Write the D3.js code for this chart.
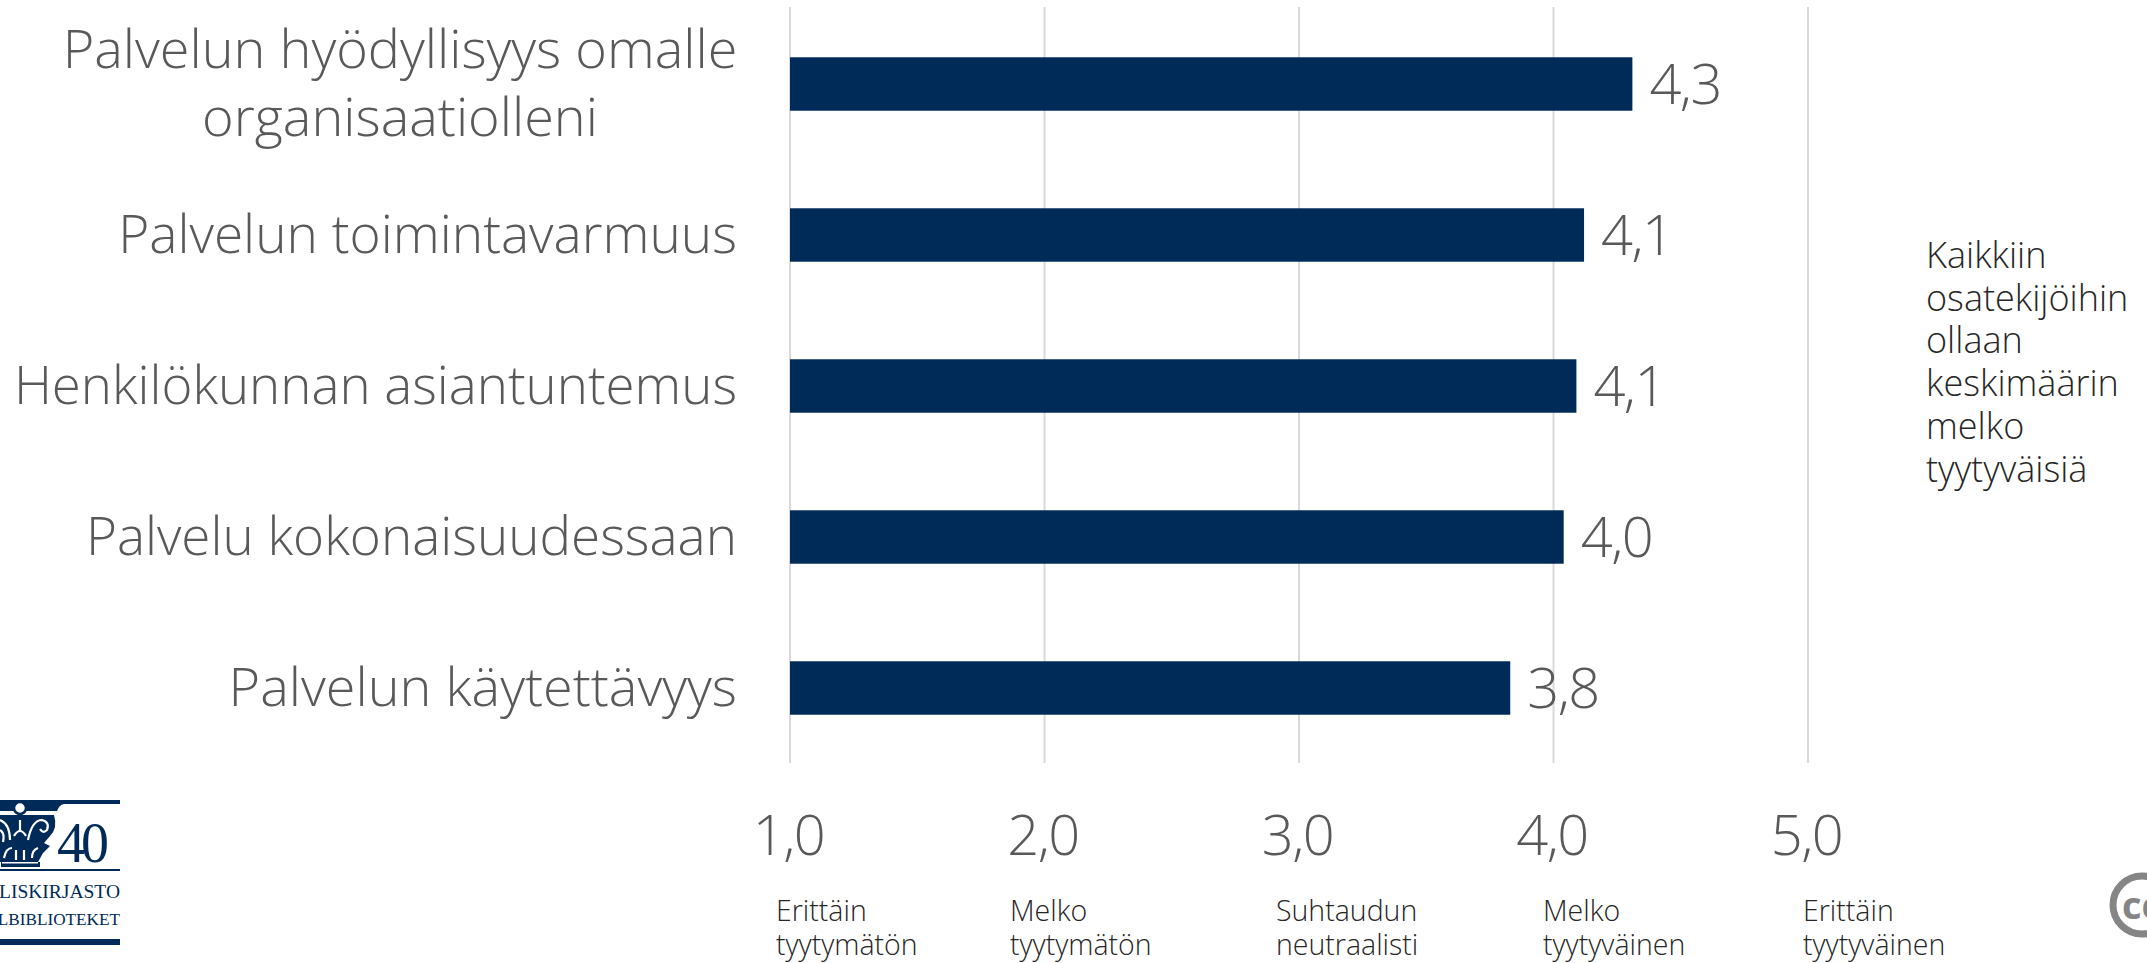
<!DOCTYPE html>
<html lang="fi">
<head>
  <meta charset="UTF-8">
  <title>Tyytyväisyys palveluun</title>
  <script src="https://d3js.org/d3.v7.min.js"></script>
  <style>
    html, body { margin: 0; padding: 0; background: #fff; overflow: hidden; }
    svg { display: block; }
    text { font-family: "Open Sans", "Noto Sans", sans-serif; font-weight: 300; }
    .grid line { stroke: #d9d9d9; stroke-width: 2; }
    .bar { fill: #002a57; }
    .cat, .val, .tick-label { fill: #595959; }
    .val, .tick-label { letter-spacing: -1.5px; }
    .scale-label, .note { fill: #262626; }
  </style>
</head>
<body>
  <script>
    // Data
    var categories = [
      "Palvelun hyödyllisyys omalle organisaatiolleni",
      "Palvelun toimintavarmuus",
      "Henkilökunnan asiantuntemus",
      "Palvelu kokonaisuudessaan",
      "Palvelun käytettävyys"
    ];
    var categoryLines = [
      ["Palvelun hyödyllisyys omalle", "organisaatiolleni"],
      ["Palvelun toimintavarmuus"],
      ["Henkilökunnan asiantuntemus"],
      ["Palvelu kokonaisuudessaan"],
      ["Palvelun käytettävyys"]
    ];
    var values = [4.31, 4.12, 4.09, 4.04, 3.83];
    var valueLabels = ["4,3", "4,1", "4,1", "4,0", "3,8"];
    var ticks = [1, 2, 3, 4, 5];
    var scaleLabels = [
      ["Erittäin", "tyytymätön"],
      ["Melko", "tyytymätön"],
      ["Suhtaudun", "neutraalisti"],
      ["Melko", "tyytyväinen"],
      ["Erittäin", "tyytyväinen"]
    ];
    var noteLines = ["Kaikkiin", "osatekijöihin", "ollaan", "keskimäärin", "melko", "tyytyväisiä"];

    var w = 2147;
    var h = 963;
    var navy = "#002a57";

    var svg = d3.select("body")
      .append("svg")
      .attr("width", w)
      .attr("height", h);

    var xScale = d3.scaleLinear()
      .domain([1, 5])
      .range([790, 1808]);

    var yScale = d3.scaleBand()
      .domain(categories)
      .range([8.5, 763.5])
      .paddingInner(0.646)
      .paddingOuter(0.323);

    // Gridlines
    svg.append("g")
      .attr("class", "grid")
      .selectAll("line")
      .data(ticks)
      .enter()
      .append("line")
      .attr("x1", function(d) { return xScale(d); })
      .attr("x2", function(d) { return xScale(d); })
      .attr("y1", 7)
      .attr("y2", 763);

    // Bars
    svg.selectAll("rect.bar")
      .data(values)
      .enter()
      .append("rect")
      .attr("class", "bar")
      .attr("x", xScale(1))
      .attr("y", function(d, i) { return yScale(categories[i]); })
      .attr("width", function(d) { return xScale(d) - xScale(1); })
      .attr("height", yScale.bandwidth());

    // Value labels
    svg.selectAll("text.val")
      .data(values)
      .enter()
      .append("text")
      .attr("class", "val")
      .attr("x", function(d) { return xScale(d) + 17; })
      .attr("y", function(d, i) { return yScale(categories[i]) + yScale.bandwidth() / 2 + 20; })
      .attr("font-size", 56)
      .text(function(d, i) { return valueLabels[i]; });

    // Category labels, right aligned against the axis
    var catLine = 68;
    var catSizes = [54, 53.2, 52.8, 53, 54];
    categoryLines.forEach(function(lines, i) {
      var mid = yScale(categories[i]) + yScale.bandwidth() / 2;
      var t = svg.append("text")
        .attr("class", "cat")
        .attr("text-anchor", i === 0 ? "middle" : "end")
        .attr("font-size", catSizes[i]);
      lines.forEach(function(l, j) {
        t.append("tspan")
          .attr("x", i === 0 ? 400 : 737)
          .attr("y", i === 0 ? 68 + j * catLine : mid + 18)
          .text(l);
      });
    });

    // Tick labels
    var xAxis = d3.axisBottom(xScale)
      .tickValues(ticks)
      .tickSize(0)
      .tickPadding(0)
      .tickFormat(function(d) { return d3.format(".1f")(d).replace(".", ","); });
    var axisG = svg.append("g")
      .attr("transform", "translate(-2,855)")
      .call(xAxis);
    axisG.select(".domain").remove();
    axisG.selectAll("text")
      .attr("class", "tick-label")
      .attr("dy", 0)
      .attr("y", 0)
      .attr("font-size", 56);

    // Scale descriptions
    var scaleX = [776, 1010, 1276, 1543, 1803];
    scaleLabels.forEach(function(lines, i) {
      var t = svg.append("text").attr("class", "scale-label").attr("font-size", 28.5);
      lines.forEach(function(l, j) {
        t.append("tspan").attr("x", scaleX[i]).attr("y", 921 + j * 34).text(l);
      });
    });

    // Side note
    var note = svg.append("text").attr("class", "note").attr("font-size", 36);
    noteLines.forEach(function(l, j) {
      note.append("tspan").attr("x", 1926).attr("y", 268 + j * 42.7).text(l);
    });

    // Logo, cut off by the left edge
    var logo = svg.append("g").attr("class", "logo");
    logo.append("rect").attr("x", 0).attr("y", 869).attr("width", 120).attr("height", 2).attr("fill", navy);
    logo.append("rect").attr("x", 0).attr("y", 939).attr("width", 120).attr("height", 6).attr("fill", navy);
    // abacus
    logo.append("path").attr("fill", navy)
      .attr("d", "M0,800 H120 V804 H64 Q59,805 57,811 H0 Z");
    // flower
    logo.append("circle").attr("cx", 20).attr("cy", 808).attr("r", 6).attr("fill", "#fff").attr("stroke", navy).attr("stroke-width", 2.5);
    // body of the capital
    logo.append("path").attr("fill", navy)
      .attr("d", "M0,815 H54 Q58,828 50,836 L44,843 L50,846 L43,853 L38,862 H40 V867 H1 V862 H0 Z");
    // scrolls and leaves cut out of it
    logo.append("g").attr("fill", "none").attr("stroke", "#fff").attr("stroke-width", 2.2)
      .selectAll("path")
      .data([
        "M28,840 Q32,820 42,820 Q50,822 47,830 Q43,834 40,829",
        "M10,840 Q10,824 0,820",
        "M0,830 Q5,833 3,842",
        "M14,836 Q20,826 26,836",
        "M20,820 V832",
        "M4,858 Q6,848 12,848",
        "M16,860 V850",
        "M24,860 V850",
        "M32,858 Q32,850 38,848"
      ])
      .enter()
      .append("path")
      .attr("d", function(d) { return d; });
    logo.append("rect").attr("x", 2).attr("y", 862).attr("width", 36).attr("height", 1.5).attr("fill", "#fff");
    logo.append("text").attr("x", 57).attr("y", 862)
      .attr("font-size", 56).attr("fill", navy)
      .style("font-family", "'Liberation Serif', serif").style("font-weight", 400)
      .style("letter-spacing", "-4px")
      .text("40");
    var logoSizes = [19.5, 17.2];
    logo.selectAll("text.logo-name")
      .data(["LISKIRJASTO", "LBIBLIOTEKET"])
      .enter()
      .append("text")
      .attr("class", "logo-name")
      .attr("x", 120)
      .attr("y", function(d, i) { return 898 + i * 27; })
      .attr("text-anchor", "end")
      .attr("font-size", function(d, i) { return logoSizes[i]; })
      .attr("fill", navy)
      .style("font-family", "'Liberation Serif', serif")
      .style("font-weight", 400)
      .text(function(d) { return d; });

    // CC badge, cut off by the right edge
    var cc = svg.append("g");
    cc.append("circle").attr("cx", 2142).attr("cy", 905).attr("r", 29)
      .attr("fill", "#fff").attr("stroke", "#858585").attr("stroke-width", 7);
    cc.append("text").attr("x", 2122).attr("y", 919)
      .attr("font-size", 38).attr("fill", "#858585")
      .style("font-family", "'Open Sans', sans-serif").style("font-weight", 700)
      .text("cc");
  </script>
</body>
</html>
